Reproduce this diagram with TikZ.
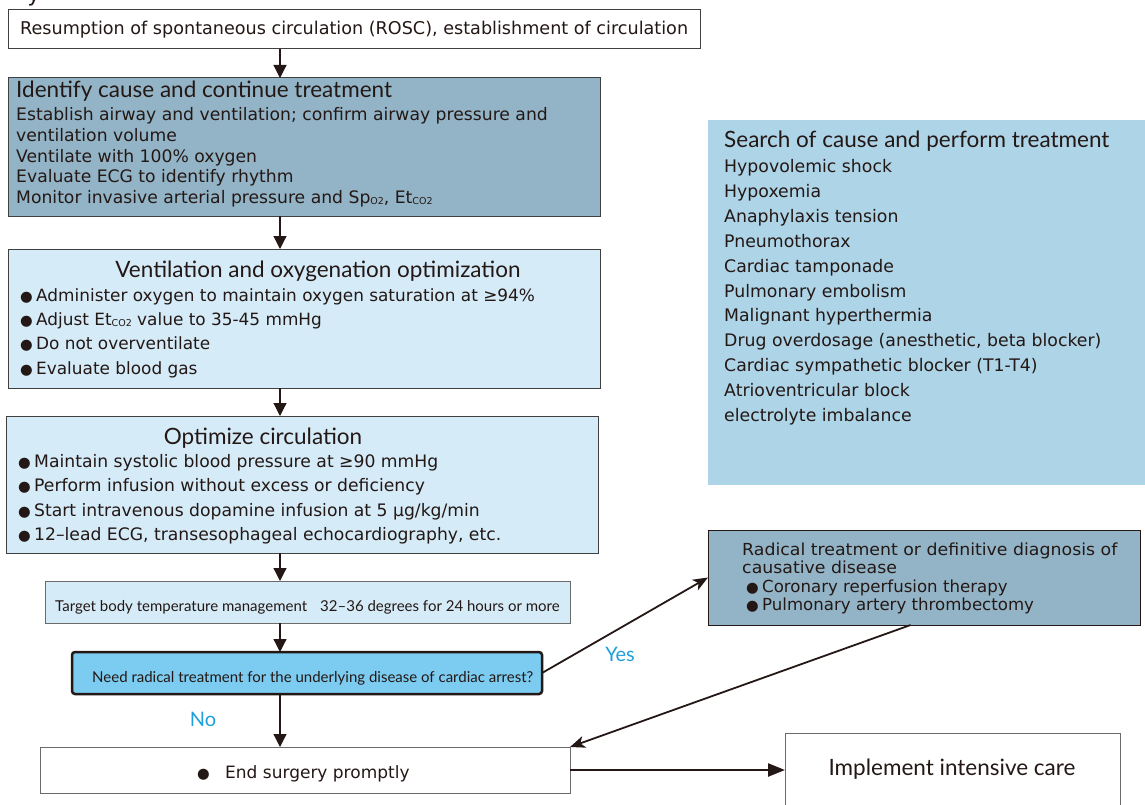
\documentclass[tikz,border=0pt]{standalone}
\usepackage{fontspec}
\usepackage{graphicx}
\setmainfont{DejaVu Sans}
\newfontfamily\gothic{DejaVu Sans}
\newfontfamily\humanist{Lato}
\usetikzlibrary{arrows.meta,calc}

\definecolor{ink}{HTML}{231815}
\definecolor{steel}{HTML}{93B4C6}
\definecolor{pale}{HTML}{D5EBF8}
\definecolor{sky}{HTML}{7CCBF0}
\definecolor{searchfill}{HTML}{AED4E8}
\definecolor{answercol}{HTML}{1FA0DC}
\definecolor{frame}{HTML}{404040}
\definecolor{softframe}{HTML}{6B6B6B}

% small lowered subscript used for Sp_O2 and Et_CO2
\newcommand\lowsub[1]{\raisebox{-1.5pt}{\fontsize{9.5}{9.5}\selectfont #1}}
\newcommand\dotitem{\makebox[16pt][l]{\fontsize{14.5}{14.5}\selectfont ●}}
\newcommand\gsize[1]{\gothic\fontsize{#1}{20}\selectfont}

\begin{document}
\begin{tikzpicture}[x=1pt,y=-1pt,
  box/.style={draw=frame,line width=1pt,anchor=north west,inner sep=0pt,outer sep=0pt},
  body/.style={anchor=base west,inner sep=0pt,text=ink,font=\gsize{17.2}},
  head/.style={anchor=base,inner sep=0pt,text=ink,font=\humanist\fontsize{22.5}{26}\selectfont},
  small/.style={anchor=base west,inner sep=0pt,text=ink,font=\humanist\fontsize{15}{18}\selectfont},
  flow/.style={draw=ink,line width=1.2pt,-{Triangle[width=13pt,length=13pt]}},
  slant/.style={draw=ink,line width=1.8pt,-{Stealth[width=12pt,length=15pt,inset=4pt]}},
  answer/.style={text=answercol,font=\humanist\fontsize{20}{20}\selectfont,inner sep=0pt}
]
\useasboundingbox (0,0) rectangle (1145,805);

% clipped title letter at the top edge
\node[anchor=base,inner sep=0pt,text=ink,font=\gothic\fontsize{22}{22}\selectfont] (ttl) at (34,2) {y};

% ---------- boxes ----------
\node[box,fill=white,minimum width=692pt,minimum height=39pt] (rosc) at (8,10) {};
\node[box,fill=steel,minimum width=592pt,minimum height=138pt] (ident) at (8,78) {};
\node[box,fill=pale,minimum width=592pt,minimum height=139pt] (vent) at (8,249) {};
\node[box,fill=pale,minimum width=592pt,minimum height=137pt] (circ) at (6,416) {};
\node[box,draw=softframe,fill=pale,minimum width=525pt,minimum height=42pt] (temp) at (45,581) {};
\node[box,draw=ink,line width=2.5pt,rounded corners=3pt,fill=sky,minimum width=470pt,minimum height=42pt] (need) at (72,652) {};
\node[box,draw=softframe,fill=white,minimum width=530pt,minimum height=46pt] (endb) at (40,747) {};
\node[box,draw=softframe,fill=white,minimum width=335pt,minimum height=90pt] (impl) at (785,733) {};
\node[box,draw=none,fill=searchfill,minimum width=437pt,minimum height=365pt] (search) at (708,120) {};
\node[box,draw=ink,fill=steel,minimum width=432pt,minimum height=95pt] (rad) at (708,530) {};

% ---------- texts ----------
\node[body,font=\gsize{17.6}] (t-rosc) at (20,35) {Resumption of spontaneous circulation (ROSC), establishment of circulation};

\node[head,anchor=base west] (h-ident) at (16,98) {Identify cause and continue treatment};
\foreach \t [count=\i from 0] in {
  {Establish airway and ventilation; confirm airway pressure and},
  {ventilation volume},
  {Ventilate with 100\% oxygen},
  {Evaluate ECG to identify rhythm},
  {Monitor invasive arterial pressure and Sp\lowsub{O2}, Et\lowsub{CO2}}}
  \node[body] (ident-\i) at (16,121+20.6*\i) {\t};

\node[head] (h-vent) at (318,277) {Ventilation and oxygenation optimization};
\foreach \t [count=\i from 0] in {
  {Administer oxygen to maintain oxygen saturation at ≥94\%},
  {Adjust Et\lowsub{CO2} value to 35-45 mmHg},
  {Do not overventilate},
  {Evaluate blood gas}}
  \node[body,font=\gsize{16.9}] (vent-\i) at (20,301+24.4*\i) {\dotitem\t};

\node[head] (h-circ) at (263,444) {Optimize circulation};
\foreach \t [count=\i from 0] in {
  {Maintain systolic blood pressure at ≥90 mmHg},
  {Perform infusion without excess or deficiency},
  {Start intravenous dopamine infusion at 5 μg/kg/min},
  {12–lead ECG, transesophageal echocardiography, etc.}}
  \node[body] (circ-\i) at (18,467+24.6*\i) {\dotitem\t};

\node[small] (t-temp) at (55,611) {Target body temperature management\hspace{13pt}32–36 degrees for 24 hours or more};
\node[small] (t-need) at (92,682) {Need radical treatment for the underlying disease of cardiac arrest?};
\node[body,font=\gsize{17}] (t-end) at (197,778) {\makebox[28pt][l]{\fontsize{14.5}{14.5}\selectfont ●}End surgery promptly};
\node[head] (t-impl) at (952,775) {Implement intensive care};

\node[head,anchor=base west] (h-search) at (724,148) {Search of cause and perform treatment};
\foreach \t [count=\i from 0] in {
  {Hypovolemic shock},{Hypoxemia},{Anaphylaxis tension},{Pneumothorax},
  {Cardiac tamponade},{Pulmonary embolism},{Malignant hyperthermia},
  {Drug overdosage (anesthetic, beta blocker)},{Cardiac sympathetic blocker (T1-T4)},
  {Atrioventricular block},{electrolyte imbalance}}
  \node[body,font=\gsize{17.3}] (search-\i) at (724,173+24.8*\i) {\t};

\node[body,font=\gsize{16.6}] (rad-0) at (742,555) {\scalebox{1.045}[1]{Radical treatment or definitive diagnosis of}};
\node[body,font=\gsize{16.6}] (rad-1) at (742,573) {\scalebox{1.045}[1]{causative disease}};
\node[body,font=\gsize{16.6}] (rad-2) at (746,592) {\dotitem Coronary reperfusion therapy};
\node[body,font=\gsize{16.6}] (rad-3) at (746,610) {\dotitem Pulmonary artery thrombectomy};

\node[answer] (no) at (203,719) {No};
\node[answer] (yes) at (620,654) {Yes};

% ---------- connectors ----------
\coordinate (spine) at (280,0);
\draw[flow] (rosc.south -| spine) -- (ident.north -| spine);
\draw[flow] (ident.south -| spine) -- (vent.north -| spine);
\draw[flow] (vent.south -| spine) -- (circ.north -| spine);
\draw[flow] (circ.south -| spine) -- (temp.north -| spine);
\draw[flow] (temp.south -| spine) -- (need.north -| spine);
\draw[flow] (need.south -| spine) -- (endb.north -| spine);
\draw[slant] (need.east) -- (rad.west);
\draw[slant] ($(rad.south west)!0.469!(rad.south east)$) -- (endb.north east);
\draw[draw=ink,line width=2.4pt,-{Triangle[width=13pt,length=17pt]}] (endb.east) -- (endb.east -| impl.west);
\end{tikzpicture}
\end{document}
